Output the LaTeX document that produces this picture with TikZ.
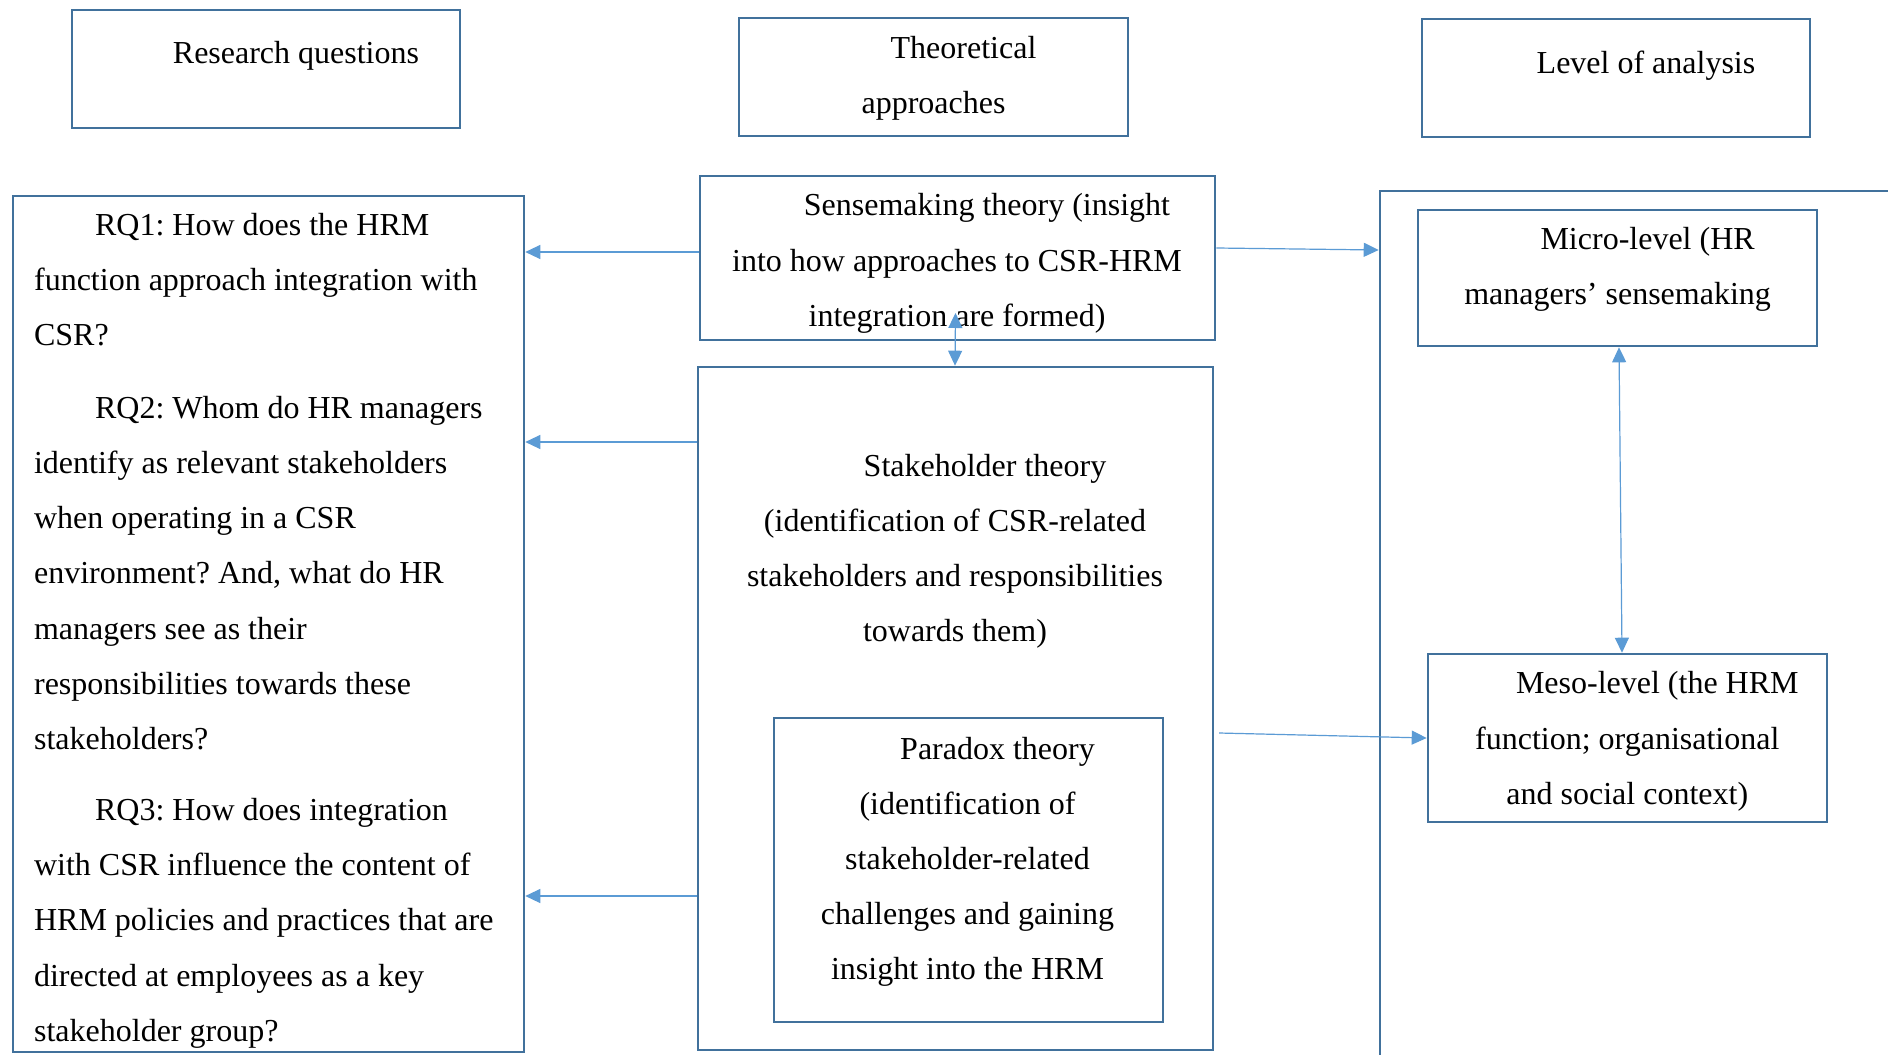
\documentclass[tikz,border=0pt]{standalone}
\usepackage{fontspec}
\setmainfont{Liberation Serif}
\usetikzlibrary{arrows.meta}
\definecolor{boxline}{HTML}{41719C}
\definecolor{arrowblue}{HTML}{5B9BD5}
\frenchspacing
\begin{document}
\begin{tikzpicture}[x=0.5pt,y=-0.5pt,
  frame/.style={draw=boxline,line width=1.3pt,rectangle,inner sep=0pt},
  txt/.style={font=\fontsize{16}{27.6}\selectfont,inner sep=0pt,align=center,anchor=north},
  ltxt/.style={font=\fontsize{16}{27.6}\selectfont,inner sep=0pt,align=left,anchor=north west},
  arr/.style={draw=arrowblue,line width=0.6pt,-{Triangle[length=7.5pt,width=7pt]}},
  arrboth/.style={draw=arrowblue,line width=0.6pt,{Triangle[length=7.5pt,width=7pt]}-{Triangle[length=7.5pt,width=7pt]}}]
\useasboundingbox (0,0) rectangle (1888,1054);
\clip (0,0) rectangle (1888,1054);
\fill[white] (0,0) rectangle (1888,1054);

% column headings
\node[frame,minimum width=194pt,minimum height=59pt] (hrq) at (266,69) {};
\node[frame,minimum width=194.5pt,minimum height=59pt] (hta) at (933.5,77) {};
\node[frame,minimum width=194pt,minimum height=59pt] (hla) at (1616,78) {};
\node[txt] (hrqt) at (266,24) {\strut\hspace*{30pt}Research questions};
\node[txt] (htat) at (933.5,19.2) {\strut\hspace*{30pt}Theoretical\\approaches};
\node[txt] (hlat) at (1616,34.9) {\strut\hspace*{30pt}Level of analysis};

% research questions
\node[frame,minimum width=255.5pt,minimum height=428pt] (rq) at (268.5,624) {};
\node[ltxt] (rq1) at (33.7,196.2) {\strut\hspace*{30.5pt}RQ1: How does the HRM\\function approach integration with\\CSR?};
\node[ltxt] (rq2) at (33.7,379.2) {\strut\hspace*{30.5pt}RQ2: Whom do HR managers\\identify as relevant stakeholders\\when operating in a CSR\\environment? And, what do HR\\managers see as their\\responsibilities towards these\\stakeholders?};
\node[ltxt] (rq3) at (33.7,781.4) {\strut\hspace*{30.5pt}RQ3: How does integration\\with CSR influence the content of\\HRM policies and practices that are\\directed at employees as a key\\stakeholder group?};

% theoretical approaches
\node[frame,minimum width=257.5pt,minimum height=82pt] (sm) at (957.5,258) {};
\node[frame,minimum width=257.5pt,minimum height=341.5pt] (st) at (955.5,708.5) {};
\node[frame,minimum width=194.5pt,minimum height=152pt] (px) at (968.5,870) {};
\node[txt] (smt) at (957,176.9) {\strut\hspace*{30pt}Sensemaking theory (insight\\into how approaches to CSR-HRM\\integration are formed)};
\node[txt] (stt) at (955,437) {\strut\hspace*{30pt}Stakeholder theory\\(identification of CSR-related\\stakeholders and responsibilities\\towards them)};
\node[txt] (pxt) at (967.5,720) {\strut\hspace*{30pt}Paradox theory\\(identification of\\stakeholder-related\\challenges and gaining\\insight into the HRM};

% levels of analysis
\node[frame,minimum width=260pt,minimum height=439.5pt] (lv) at (1640,630.5) {};
\node[frame,minimum width=199.5pt,minimum height=68pt] (mi) at (1617.5,278) {};
\node[frame,minimum width=199.5pt,minimum height=84pt] (me) at (1627.5,738) {};
\node[txt] (mit) at (1617.6,210.6) {\strut\hspace*{30pt}Micro-level (HR\\managers’ sensemaking};
\node[txt] (met) at (1627.3,654.9) {\strut\hspace*{30pt}Meso-level (the HRM\\function; organisational\\and social context)};

% connectors
\coordinate (stout) at (1219,733);
\draw[arr] (sm.west |- 0,252) -- (rq.east |- 0,252);
\draw[arr] (sm.east |- 0,248) -- (lv.west |- 0,250);
\draw[arrboth] (st.north -| 955,0) -- (st.north |- 0,313);
\draw[arr] (st.west |- 0,442) -- (rq.east |- 0,442);
\draw[arr] (st.west |- 0,896) -- (rq.east |- 0,896);
\draw[arrboth] (mi.south -| 1619,0) -- (me.north -| 1622,0);
\draw[arr] (stout) -- (me.west);
\end{tikzpicture}
\end{document}
